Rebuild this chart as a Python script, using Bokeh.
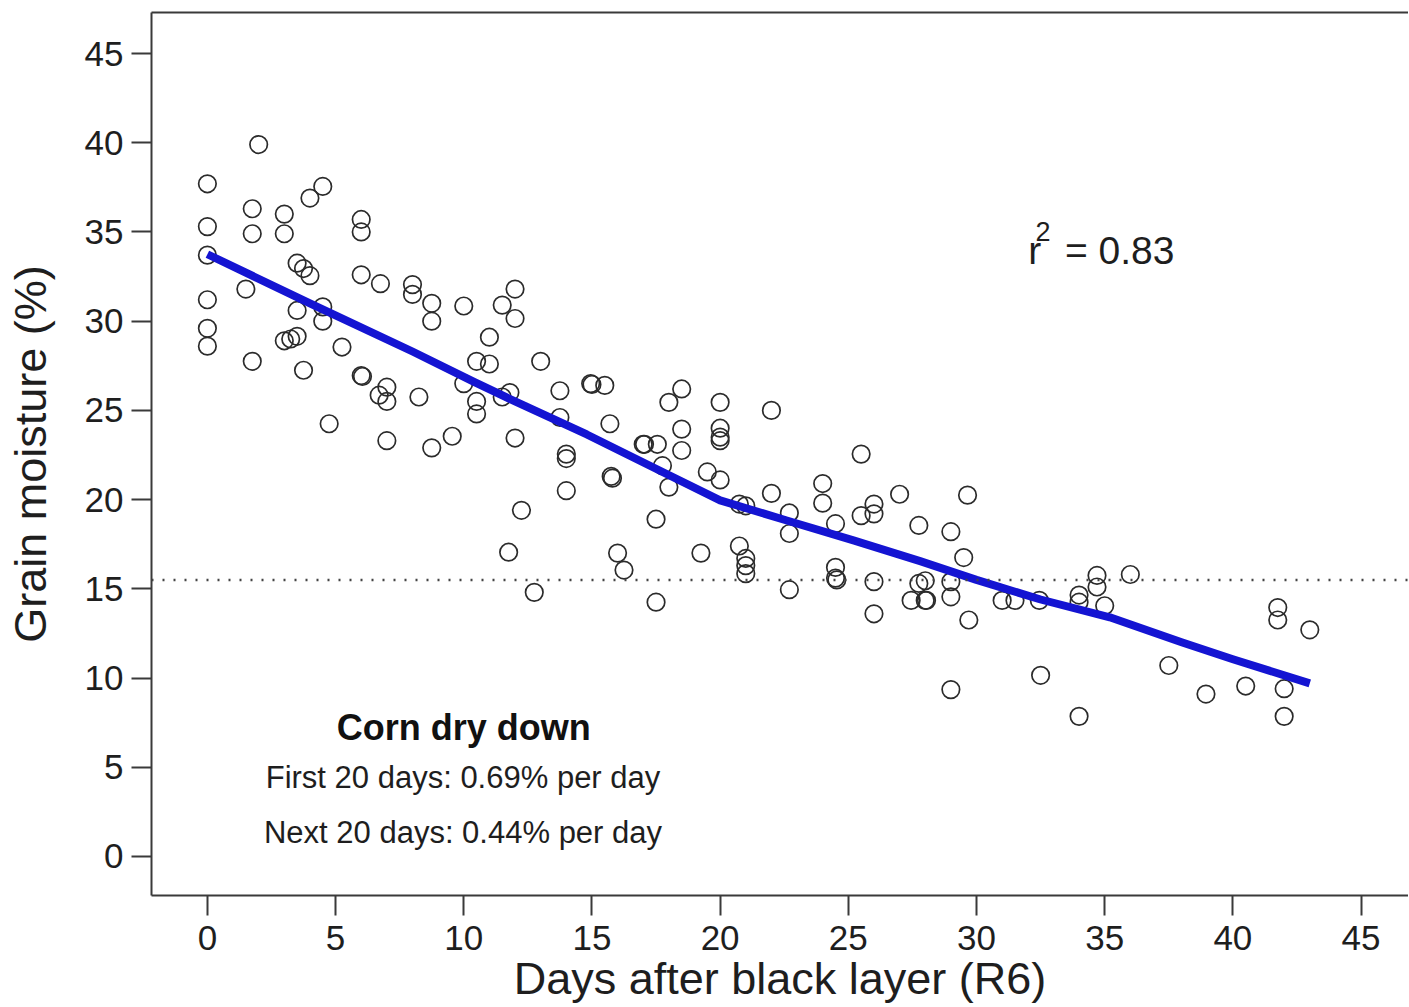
from bokeh.plotting import figure
from bokeh.models import Span, Label, LinearAxis, FixedTicker, Range1d, ColumnDataSource
from bokeh.embed import file_html
from bokeh.resources import INLINE

# Observed data: days after black layer vs grain moisture (%)
days = [0, 0, 0, 0, 0, 0,
        1.5, 1.75, 2.0, 1.75, 1.75, 3.0, 3.0, 4.0, 4.5,
        3.5, 3.75, 4.0, 3.5, 3.0, 3.25, 3.5, 3.75,
        4.5, 4.5, 4.75, 5.25, 6.0, 6.0, 6.0, 6.75,
        6.0, 6.05, 6.7, 7.0, 7.0, 7.0, 8.25, 8.0, 8.0,
        8.75, 8.75, 10.0, 9.55, 8.75, 10.0, 10.5, 11.0, 11.0,
        10.5, 10.5, 11.5, 12.0, 12.0, 11.5, 11.8, 12.0, 13.0,
        13.75, 13.75, 14.0, 14.0, 14.95, 15.0, 15.5, 15.7,
        14.0, 12.25, 11.75, 12.75, 15.75, 15.8, 17.0, 17.05, 17.55,
        17.75, 18.0, 18.0, 18.5, 18.5, 18.5, 20.0, 20.0, 20.0, 20.0,
        22.0, 19.5, 20.0, 17.5, 16.0, 16.25, 19.25, 20.75, 21.0, 21.0, 21.0,
        17.5, 20.75, 21.0, 22.0, 22.7, 22.7, 22.7, 24.0, 24.0, 24.5,
        24.5, 24.5, 24.55, 25.5, 25.5, 26.0, 26.0, 27.0, 26.0, 26.0,
        27.75, 29.0, 29.65, 29.5, 27.75, 28.0, 27.45, 28.0, 28.05,
        29.0, 29.0, 29.7, 29.0, 31.0, 31.5, 32.45, 32.5,
        34.0, 34.0, 34.7, 34.7, 35.0, 36.0, 34.0, 37.5, 38.95, 40.5,
        41.75, 41.75, 43.0, 42.0, 42.0]
moisture = [37.7, 35.3, 33.7, 31.2, 29.6, 28.6,
            31.8, 27.75, 39.9, 36.3, 34.9, 36.0, 34.9, 36.9, 37.55,
            33.25, 32.95, 32.55, 30.6, 28.9, 29.0, 29.15, 27.25,
            30.8, 30.0, 24.25, 28.55, 32.6, 35.7, 35.0, 32.1,
            26.95, 26.9, 25.85, 26.3, 25.5, 23.3, 25.75, 32.05, 31.5,
            31.0, 30.0, 30.85, 23.55, 22.9, 26.5, 27.75, 27.6, 29.1,
            25.5, 24.8, 30.9, 31.8, 30.15, 25.75, 26.0, 23.45, 27.75,
            26.1, 24.6, 22.55, 22.3, 26.5, 26.45, 26.4, 24.25,
            20.5, 19.4, 17.05, 14.8, 21.3, 21.2, 23.1, 23.1, 23.1,
            21.9, 20.7, 25.45, 26.2, 23.95, 22.75, 25.45, 24.0, 23.5, 23.3,
            25.0, 21.55, 21.1, 18.9, 17.0, 16.05, 17.0, 17.4, 16.7, 16.3, 15.85,
            14.25, 19.75, 19.65, 20.35, 19.25, 18.1, 14.95, 20.9, 19.8, 18.65,
            16.2, 15.6, 15.5, 22.55, 19.1, 19.75, 19.2, 20.3, 15.4, 13.6,
            18.55, 18.2, 20.25, 16.75, 15.3, 15.45, 14.35, 14.35, 14.35,
            15.4, 14.55, 13.25, 9.35, 14.35, 14.35, 14.35, 10.15,
            14.65, 14.25, 15.75, 15.1, 14.05, 15.8, 7.85, 10.7, 9.1, 9.55,
            13.95, 13.25, 12.7, 9.4, 7.85]

# Fitted dry-down curve
fit_days = [0, 4.0, 8.0, 10.4, 12.0, 14.8, 17.4, 20.0, 22.6, 25.2, 27.8, 30.0, 32.5, 35.2, 38.0, 40.0, 43.0]
fit_moisture = [33.75, 31.0, 28.3, 26.6, 25.5, 23.65, 21.8, 19.96, 18.83, 17.71, 16.55, 15.5, 14.4, 13.4, 12.0, 11.05, 9.7]

target_moisture = 15.5

x_ticks = [0, 5, 10, 15, 20, 25, 30, 35, 40, 45]
y_ticks = [0, 5, 10, 15, 20, 25, 30, 35, 40, 45]

FONT = "Liberation Sans"
AXIS_COL = "#3a3a3a"
TEXT_COL = "#1e1e1e"

p = figure(width=1408, height=1006,
           x_range=Range1d(-2.18, 46.85), y_range=Range1d(-2.19, 47.3),
           output_backend="svg", toolbar_location=None,
           min_border_left=151, min_border_top=12, min_border_right=0, min_border_bottom=111)
p.grid.visible = False
p.outline_line_color = None
p.background_fill_color = "white"
p.border_fill_color = "white"

for ax, ticks in ((p.xaxis[0], x_ticks), (p.yaxis[0], y_ticks)):
    ax.ticker = FixedTicker(ticks=ticks)
    ax.axis_line_width = 2
    ax.axis_line_color = AXIS_COL
    ax.major_tick_line_width = 2
    ax.major_tick_line_color = AXIS_COL
    ax.major_tick_in = 0
    ax.major_tick_out = 20
    ax.minor_tick_in = 0
    ax.minor_tick_out = 0
    ax.major_label_text_font = FONT
    ax.major_label_text_font_size = "35px"
    ax.major_label_text_color = TEXT_COL
    ax.axis_label_text_font = FONT
    ax.axis_label_text_font_size = "45px"
    ax.axis_label_text_font_style = "normal"
    ax.axis_label_text_color = TEXT_COL

p.xaxis[0].major_label_standoff = 10
p.yaxis[0].major_label_standoff = 8
p.yaxis[0].major_label_orientation = "horizontal"

p.yaxis[0].axis_label = "Grain moisture (%)"
p.yaxis[0].axis_label_standoff = 26

p.xaxis[0].axis_label = "Days after black layer (R6)"
p.xaxis[0].axis_label_standoff = 0

top = LinearAxis(ticker=FixedTicker(ticks=[]), major_label_text_font_size="0px",
                 major_tick_out=0, major_tick_in=0, minor_tick_out=0, minor_tick_in=0,
                 axis_line_width=2, axis_line_color=AXIS_COL)
p.add_layout(top, "above")

p.add_layout(Span(location=target_moisture, dimension="width", line_dash="2 9",
                  line_width=2.5, line_color="#444444"))

src = ColumnDataSource(dict(x=days, y=moisture))
p.scatter("x", "y", source=src, marker="circle", size=17.5, fill_color=None,
          line_color="#2b2b2b", line_width=1.7)

p.line(fit_days, fit_moisture, line_color="#1414d2", line_width=8, line_cap="butt", line_join="round")

# Annotations
p.add_layout(Label(x=10.0, y=7.23, text="Corn dry down", text_align="center",
                   text_baseline="alphabetic", text_font=FONT, text_font_size="36px",
                   text_font_style="bold", text_color="#111111"))
p.add_layout(Label(x=9.97, y=4.43, text="First 20 days: 0.69% per day", text_align="center",
                   text_baseline="alphabetic", text_font=FONT, text_font_size="31px",
                   text_color=TEXT_COL))
p.add_layout(Label(x=9.97, y=1.35, text="Next 20 days: 0.44% per day", text_align="center",
                   text_baseline="alphabetic", text_font=FONT, text_font_size="31px",
                   text_color=TEXT_COL))

p.add_layout(Label(x=32.02, y=33.97, text="r", text_align="left", text_baseline="alphabetic",
                   text_font=FONT, text_font_size="39px", text_color=TEXT_COL))
p.add_layout(Label(x=32.3, y=35.05, text="2", text_align="left", text_baseline="alphabetic",
                   text_font=FONT, text_font_size="27px", text_color=TEXT_COL))
p.add_layout(Label(x=33.45, y=33.97, text="= 0.83", text_align="left", text_baseline="alphabetic",
                   text_font=FONT, text_font_size="39px", text_color=TEXT_COL))

open("out.html", "w").write(file_html(p, INLINE))
